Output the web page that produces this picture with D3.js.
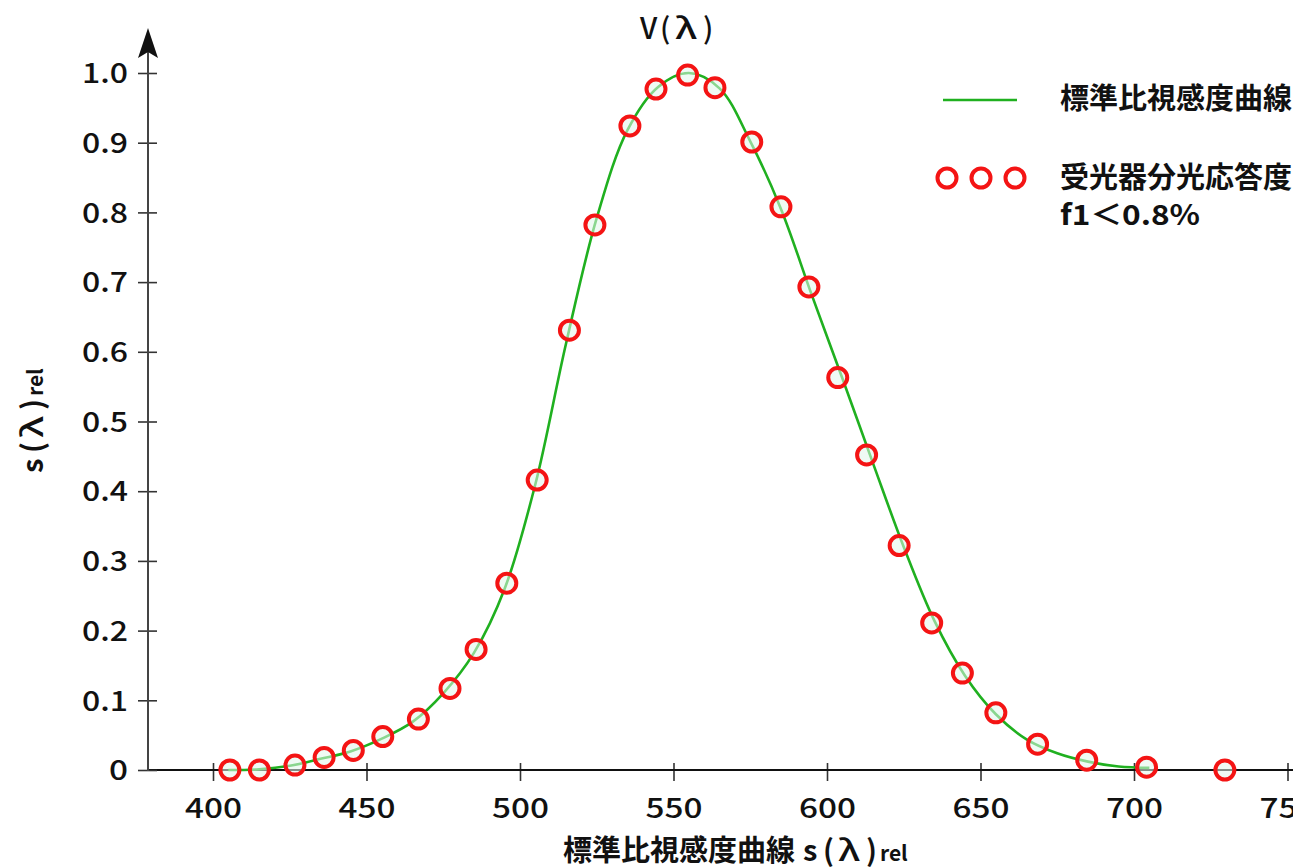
<!DOCTYPE html>
<html>
<head>
<meta charset="utf-8">
<script src="https://cdn.jsdelivr.net/npm/d3@7"></script>
<style>
  html, body { margin: 0; padding: 0; background: #fff; }
  svg { display: block; }
  text { font-family: "Noto Sans CJK JP", "Noto Sans", sans-serif; fill: #111; }
</style>
</head>
<body>
<svg id="chart" width="1293" height="868"></svg>
<script>
// ---- data ----
const wavelengths = [405.5, 415.1, 426.7, 436.2, 445.7, 455.3, 466.9, 477.2, 485.7, 495.7,
                     505.6, 516.1, 524.4, 535.8, 544.3, 554.6, 563.5, 575.5, 585.0, 594.1,
                     603.5, 612.9, 623.5, 634.1, 644.1, 655.0, 668.6, 684.6, 704.1, 729.6];
const response    = [0.000, 0.000, 0.007, 0.018, 0.028, 0.048, 0.073, 0.117, 0.173, 0.268,
                     0.416, 0.631, 0.782, 0.924, 0.977, 0.997, 0.979, 0.901, 0.808, 0.693,
                     0.563, 0.452, 0.322, 0.211, 0.139, 0.082, 0.037, 0.014, 0.004, 0.000];
// standard luminous efficiency curve V(λ)
const curveLambda = [405, 415, 425, 435, 445, 455, 465, 475, 485, 495, 505, 515, 525, 535,
                     545, 555, 565, 575, 585, 595, 605, 615, 625, 635, 645, 655, 665, 675,
                     685, 695, 705];
const curveValue  = [0.000, 0.001, 0.006, 0.016, 0.027, 0.045, 0.069, 0.110, 0.168, 0.260,
                     0.410, 0.612, 0.792, 0.918, 0.980, 1.000, 0.978, 0.902, 0.805, 0.682,
                     0.562, 0.440, 0.320, 0.214, 0.135, 0.080, 0.044, 0.024, 0.012, 0.005, 0.003];
const xTicks = [400, 450, 500, 550, 600, 650, 700, 750];
const yTicks = [0, 0.1, 0.2, 0.3, 0.4, 0.5, 0.6, 0.7, 0.8, 0.9, 1.0];
const titleParts = ["V", "(", "λ", ")"];
const xLabelMain = "標準比視感度曲線";
const symParts = ["s", "(", "λ", ")"];
const subText = "rel";
const legendLine = "標準比視感度曲線";
const legendDots1 = "受光器分光応答度";
const legendDots2 = "f1＜0.8%";

// ---- layout ----
const svg = d3.select("#chart");
const x = d3.scaleLinear().domain([400, 750]).range([213, 1287.5]);
const y = d3.scaleLinear().domain([0, 1]).range([770, 73]);
const axisX0 = 148; // y-axis position
const green = "#20b020";
const red = "#f41414";
// width of numeric labels (the reference uses a wide numeral face)
const numWidth = s => Array.from(s).reduce((a, c) => a + (c === "." ? 8 : 19), 0);

// x axis
const gx = svg.append("g").attr("transform", "translate(0,770)")
  .call(d3.axisBottom(x).tickValues(xTicks).tickFormat(d3.format("d")).tickSize(0).tickPadding(0));
gx.select(".domain").remove();
gx.append("line").attr("x1", axisX0).attr("x2", 1293).attr("y1", 0).attr("y2", 0)
  .attr("stroke", "#111").attr("stroke-width", 2);
gx.selectAll(".tick line").attr("y1", -7).attr("y2", 11).attr("stroke", "#333").attr("stroke-width", 1.6);
gx.selectAll(".tick text").attr("y", 48).attr("dy", 0)
  .attr("textLength", d => numWidth(String(d))).attr("lengthAdjust", "spacingAndGlyphs")
  .style("font-size", "27px").style("font-weight", "500").attr("fill", "#111");

// y axis
const yFmt = d => d === 0 ? "0" : d.toFixed(1);
const gy = svg.append("g").attr("transform", `translate(${axisX0},0)`)
  .call(d3.axisLeft(y).tickValues(yTicks).tickFormat(yFmt).tickSize(0).tickPadding(0));
gy.select(".domain").remove();
gy.append("line").attr("x1", 0).attr("x2", 0).attr("y1", 771).attr("y2", 50)
  .attr("stroke", "#444").attr("stroke-width", 2);
gy.append("path").attr("d", "M0,28 L10,58 L0,52 L-10,58 Z").attr("fill", "#111");
gy.selectAll(".tick line").attr("x1", -10).attr("x2", 9).attr("stroke", "#333").attr("stroke-width", 1.6);
gy.selectAll(".tick text").attr("x", -20).attr("dy", "0.36em")
  .attr("textLength", d => numWidth(yFmt(d))).attr("lengthAdjust", "spacingAndGlyphs")
  .style("font-size", "27px").style("font-weight", "500").attr("fill", "#111");

// curve
const line = d3.line().x(d => x(d[0])).y(d => y(d[1])).curve(d3.curveCatmullRom.alpha(0.5));
svg.append("path").datum(d3.zip(curveLambda, curveValue))
  .attr("d", line).attr("fill", "none").attr("stroke", green).attr("stroke-width", 2.6);

// circles
svg.append("g").selectAll("circle").data(d3.zip(wavelengths, response)).join("circle")
  .attr("cx", d => x(d[0])).attr("cy", d => y(d[1])).attr("r", 9.5)
  .attr("fill", "rgba(225,245,235,0.55)").attr("stroke", red).attr("stroke-width", 4);

// helper: symbol "s(λ)" with a wide λ, positions relative to start x0
function addSym(textSel, parts, x0, withSub) {
  textSel.append("tspan").attr("x", x0).text(parts[0]);
  textSel.append("tspan").attr("x", x0 + 20).text(parts[1]);
  textSel.append("tspan").attr("x", x0 + 35).attr("textLength", 22)
    .attr("lengthAdjust", "spacingAndGlyphs").style("font-weight", "500").text(parts[2]);
  textSel.append("tspan").attr("x", x0 + 63).text(parts[3]);
  if (withSub) textSel.append("tspan").attr("x", x0 + 77).style("font-size", "21px").text(subText);
}

// title
const tt = svg.append("text").attr("y", 39)
  .style("font-size", "29px").style("font-weight", "500");
addSym(tt, titleParts, 640, false);

// x label
const xl = svg.append("text").attr("x", 563).attr("y", 861)
  .style("font-size", "29px").style("font-weight", "bold");
xl.append("tspan").attr("x", 563).text(xLabelMain);
addSym(xl, symParts, 803, true);

// y label
const yl = svg.append("text").attr("transform", "translate(43,0) rotate(-90)").attr("y", 0)
  .style("font-size", "29px").style("font-weight", "bold");
addSym(yl, symParts, -473, true);

// legend
svg.append("line").attr("x1", 943).attr("x2", 1017).attr("y1", 100).attr("y2", 100)
  .attr("stroke", green).attr("stroke-width", 2.6);
svg.append("text").attr("x", 1060).attr("y", 99).attr("dy", "0.36em")
  .style("font-size", "29px").style("font-weight", "bold").text(legendLine);
svg.append("g").selectAll("circle").data([947, 981, 1015]).join("circle")
  .attr("cx", d => d).attr("cy", 178).attr("r", 9.5)
  .attr("fill", "#fff").attr("stroke", red).attr("stroke-width", 4);
svg.append("text").attr("x", 1060).attr("y", 178).attr("dy", "0.36em")
  .style("font-size", "29px").style("font-weight", "bold").text(legendDots1);
svg.append("text").attr("x", 1060).attr("y", 215).attr("dy", "0.36em")
  .attr("textLength", 140).attr("lengthAdjust", "spacingAndGlyphs")
  .style("font-size", "28px").style("font-weight", "bold").text(legendDots2);
</script>
</body>
</html>
